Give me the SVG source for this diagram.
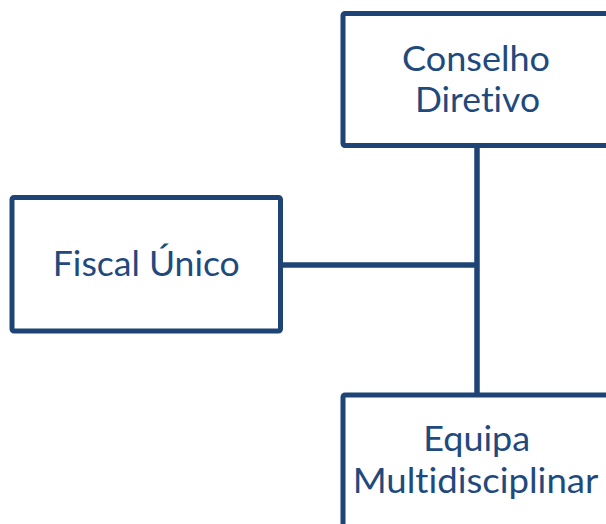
<svg xmlns="http://www.w3.org/2000/svg" width="606" height="524" viewBox="0 0 606 524">
<style>
.box{fill:#ffffff;stroke:#1E4476;stroke-width:5;}
.conn{fill:none;stroke:#1E4476;stroke-width:5.5;}
.lbl{font-family:Lato,"Open Sans","Liberation Sans",sans-serif;font-size:35px;fill:#1F4A7D;text-anchor:middle;font-variant-ligatures:none;font-feature-settings:"liga" 0,"clig" 0;}
</style>
<rect width="606" height="524" fill="#ffffff"/>
<g id="connectors">
<line class="conn" x1="477" y1="147" x2="477" y2="394"/>
<line class="conn" x1="282" y1="265" x2="477" y2="265"/>
</g>
<g id="node-conselho">
<rect class="box" x="343" y="13.5" width="290" height="132" rx="2"/>
<text class="lbl" x="476" y="70.5" textLength="148" lengthAdjust="spacingAndGlyphs">Conselho</text>
<text class="lbl" x="477.5" y="111.5" textLength="125" lengthAdjust="spacingAndGlyphs">Diretivo</text>
</g>
<g id="node-fiscal">
<rect class="box" x="12" y="197.5" width="268.5" height="133.5" rx="2"/>
<text class="lbl" x="146.3" y="275.5" textLength="187" lengthAdjust="spacingAndGlyphs">Fiscal Único</text>
</g>
<g id="node-equipa">
<rect class="box" x="343" y="395" width="290" height="160" rx="2"/>
<text class="lbl" x="476.7" y="451" textLength="107" lengthAdjust="spacingAndGlyphs">Equipa</text>
<text class="lbl" x="475.5" y="493" textLength="245.6" lengthAdjust="spacingAndGlyphs">Multidisciplinar</text>
</g>
</svg>
